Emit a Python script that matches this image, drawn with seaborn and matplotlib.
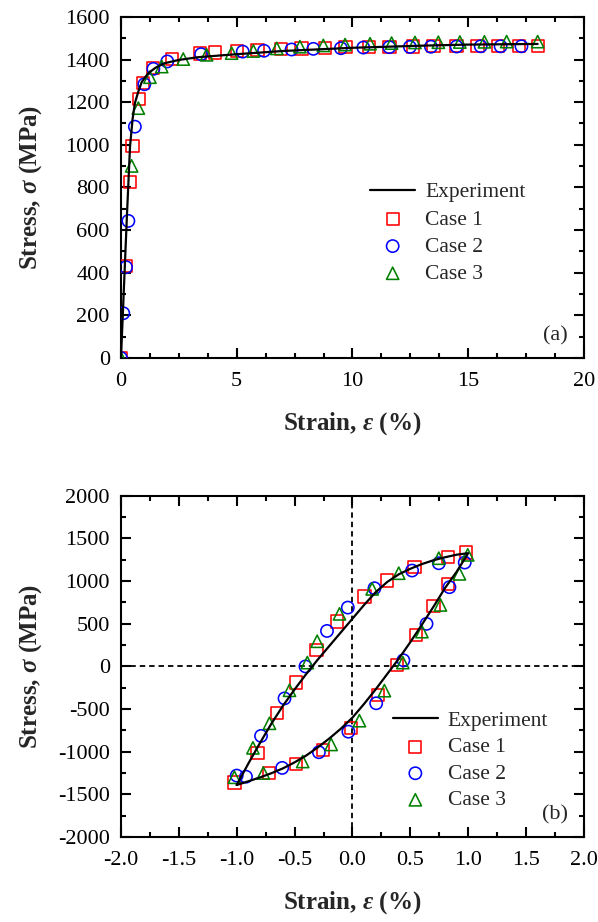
import numpy as np
import pandas as pd
import matplotlib
matplotlib.use("Agg")
import matplotlib.pyplot as plt
import seaborn as sns
from matplotlib.ticker import MultipleLocator, FormatStrFormatter

# ---------------- data: panel (a) monotonic tension ----------------
exp_a_strain = [0, 0.12, 0.25, 0.39, 0.5, 0.6, 0.75, 0.9, 1.18, 1.5, 1.9, 2.5, 3.34,
                5.0, 7.0, 10.0, 13.0, 15.0, 18.0]
exp_a_stress = [0, 310, 650, 990, 1120, 1195, 1250, 1295, 1336, 1362, 1383, 1398, 1411,
                1425, 1440, 1455, 1465, 1470, 1473]

c1_a_strain = [0, 0.22, 0.39, 0.5, 0.78, 0.95, 1.39, 2.19, 3.41, 4.05, 5.0, 5.9, 6.9, 7.8,
               8.8, 9.7, 10.7, 11.6, 12.6, 13.5, 14.5, 15.4, 16.3, 17.2, 18.0]
c1_a_stress = [0, 430, 827, 995, 1215, 1290, 1359, 1402, 1428, 1433, 1440, 1445, 1449, 1452,
               1455, 1457, 1459, 1460, 1461, 1462, 1462, 1463, 1463, 1463, 1463]

c2_a_strain = [0, 0.1, 0.22, 0.32, 0.6, 1.01, 1.40, 2.0, 3.46, 5.26, 6.18, 7.37, 8.31, 9.50,
               10.47, 11.59, 12.48, 13.39, 14.5, 15.54, 16.4, 17.3]
c2_a_stress = [0, 210, 426, 643, 1085, 1284, 1356, 1391, 1425, 1437, 1441, 1447, 1450, 1453,
               1456, 1458, 1459, 1460, 1461, 1462, 1462, 1462]

c3_a_strain = [0, 0.46, 0.75, 1.25, 1.76, 2.69, 3.70, 4.78, 5.72, 6.73, 7.73, 8.74, 9.68,
               10.76, 11.69, 12.70, 13.71, 14.64, 15.7, 16.66, 18.0]
c3_a_stress = [0, 901, 1172, 1317, 1367, 1402, 1422, 1430, 1440, 1452, 1460, 1466, 1470,
               1474, 1477, 1480, 1481, 1482, 1483, 1484, 1484]

# ---------------- data: panel (b) cyclic loop ----------------
exp_b_strain = [-1.0, -0.9, -0.8, -0.7, -0.6, -0.5, -0.4, -0.3, -0.2, -0.1, 0.0, 0.1, 0.2,
                0.3, 0.4, 0.5, 0.6, 0.7, 0.8, 0.9, 1.0,
                0.9, 0.8, 0.7, 0.6, 0.5, 0.4, 0.3, 0.2, 0.1, 0.0, -0.1, -0.2, -0.3, -0.4,
                -0.5, -0.6, -0.7, -0.8, -0.9, -1.0]
exp_b_stress = [-1390, -1140, -900, -670, -460, -270, -90, 80, 240, 400, 560, 720, 870,
                990, 1080, 1145, 1200, 1245, 1280, 1310, 1328,
                1110, 920, 700, 490, 285, 90, -90, -270, -440, -600, -730, -845, -950, -1045,
                -1125, -1195, -1252, -1302, -1347, -1390]

c1_b_strain = [-1.02, -0.82, -0.65, -0.49, -0.31, -0.136, 0.104, 0.296, 0.536, 0.823, 0.98,
               0.823, 0.70, 0.55, 0.383, 0.22, -0.01, -0.256, -0.49, -0.72]
c1_b_stress = [-1360, -1018, -549, -190, 194, 526, 819, 1006, 1163, 1281, 1335,
               968, 710, 370, 18, -334, -725, -980, -1140, -1250]

c2_b_strain = [-1.0, -0.79, -0.587, -0.406, -0.22, -0.04, 0.19, 0.515, 0.746, 0.97,
               0.838, 0.64, 0.44, 0.205, -0.035, -0.29, -0.607, -0.92]
c2_b_stress = [-1280, -815, -375, 0, 416, 690, 917, 1124, 1210, 1218,
               929, 499, 72, -432, -765, -1006, -1190, -1293]

c3_b_strain = [-1.02, -0.86, -0.717, -0.544, -0.39, -0.305, -0.112, 0.17, 0.40, 0.746, 0.996,
               0.924, 0.76, 0.60, 0.435, 0.276, 0.06, -0.184, -0.43, -0.77]
c3_b_stress = [-1300, -955, -667, -280, 45, 295, 616, 909, 1093, 1269, 1308,
               1085, 721, 408, 45, -284, -636, -915, -1115, -1250]

labels = ["Experiment", "Case 1", "Case 2", "Case 3"]

# ---------------- style ----------------
sns.set_style("ticks")
plt.rcParams.update({
    "font.family": ["Liberation Serif", "DejaVu Serif"],
    "mathtext.fontset": "custom",
    "mathtext.rm": "Liberation Serif",
    "mathtext.it": "Liberation Serif:italic",
    "mathtext.bf": "Liberation Serif:bold",
    "mathtext.bfit": "Liberation Serif:italic:bold",
    "axes.unicode_minus": False,
    "axes.linewidth": 1.5,
})

fig = plt.figure(figsize=(5.98, 9.22), dpi=100)
ax1 = fig.add_axes([0.2023, 0.6117, 0.7742, 0.370])
ax2 = fig.add_axes([0.2023, 0.0922, 0.7742, 0.370])

mk = dict(s=78, linewidth=1.15, zorder=3)


def draw(ax, es, ey, d1, d2, d3, loop=False):
    sns.lineplot(x=es, y=ey, ax=ax, color="black", lw=1.6, sort=not loop,
                 estimator=None, label=labels[0], zorder=4)
    sns.scatterplot(x=d1[0], y=d1[1], ax=ax, marker="s", facecolors="none",
                    edgecolor="#ff0000", label=labels[1], **mk)
    sns.scatterplot(x=d2[0], y=d2[1], ax=ax, marker="o", facecolors="none",
                    edgecolor="#0000ff", label=labels[2], **mk)
    sns.scatterplot(x=d3[0], y=d3[1], ax=ax, marker="^", facecolors="none",
                    edgecolor="#008000", label=labels[3], **mk)


draw(ax1, exp_a_strain, exp_a_stress, (c1_a_strain, c1_a_stress),
     (c2_a_strain, c2_a_stress), (c3_a_strain, c3_a_stress))
draw(ax2, exp_b_strain, exp_b_stress, (c1_b_strain, c1_b_stress),
     (c2_b_strain, c2_b_stress), (c3_b_strain, c3_b_stress), loop=True)

ax2.axhline(0, color="black", lw=1.3, ls=(0, (3, 2.2)), zorder=1)
ax2.axvline(0, color="black", lw=1.3, ls=(0, (3, 2.2)), zorder=1)

ax1.set_xlim(0, 20)
ax1.set_ylim(0, 1600)
ax1.xaxis.set_major_locator(MultipleLocator(5))
ax1.xaxis.set_minor_locator(MultipleLocator(1.25))
ax1.yaxis.set_major_locator(MultipleLocator(200))
ax1.yaxis.set_minor_locator(MultipleLocator(100))

ax2.set_xlim(-2, 2)
ax2.set_ylim(-2000, 2000)
ax2.xaxis.set_major_locator(MultipleLocator(0.5))
ax2.xaxis.set_minor_locator(MultipleLocator(0.25))
ax2.xaxis.set_major_formatter(FormatStrFormatter("%.1f"))
ax2.yaxis.set_major_locator(MultipleLocator(500))
ax2.yaxis.set_minor_locator(MultipleLocator(250))

for ax in (ax1, ax2):
    for sp in ax.spines.values():
        sp.set_visible(True)
        sp.set_linewidth(1.5)
        sp.set_color("black")
    ax.tick_params(which="both", direction="in", top=True, right=True,
                   colors="black", labelsize=16, width=1.5)
    ax.tick_params(which="major", length=7)
    ax.tick_params(which="minor", length=3.5)
    ax.tick_params(axis="x", which="major", pad=10)
    ax.tick_params(axis="y", which="major", pad=8)
    ax.set_xlabel(r"Strain, $\mathbfit{\varepsilon}$ (%)", fontsize=18,
                  fontweight="bold", labelpad=14)
    ax.set_ylabel(r"Stress, $\mathbfit{\sigma}$ (MPa)", fontsize=18,
                  fontweight="bold")
    ax.yaxis.set_label_coords(-0.166, 0.5)
    ax.grid(False)

leg1 = ax1.legend(loc="upper left", bbox_to_anchor=(0.538, 0.515), frameon=False,
                  fontsize=15.5, handlelength=2.1, handletextpad=0.45,
                  labelspacing=0.33, borderpad=0, borderaxespad=0)
leg2 = ax2.legend(loc="upper left", bbox_to_anchor=(0.587, 0.37), frameon=False,
                  fontsize=15.5, handlelength=2.1, handletextpad=0.45,
                  labelspacing=0.30, borderpad=0, borderaxespad=0)

ax1.text(0.965, 0.065, "(a)", transform=ax1.transAxes, ha="right", va="center",
         fontsize=16)
ax2.text(0.965, 0.065, "(b)", transform=ax2.transAxes, ha="right", va="center",
         fontsize=16)

fig.savefig("out.png", dpi=100)
